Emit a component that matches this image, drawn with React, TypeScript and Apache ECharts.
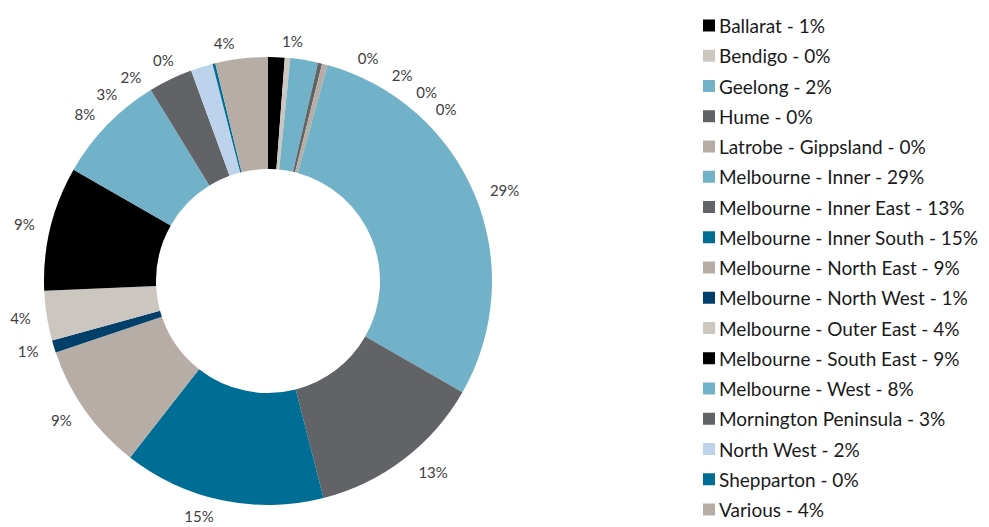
import React, { useEffect, useRef } from "react";
import * as echarts from "echarts";

const categories = [
  "Ballarat",
  "Bendigo",
  "Geelong",
  "Hume",
  "Latrobe - Gippsland",
  "Melbourne - Inner",
  "Melbourne - Inner East",
  "Melbourne - Inner South",
  "Melbourne - North East",
  "Melbourne - North West",
  "Melbourne - Outer East",
  "Melbourne - South East",
  "Melbourne - West",
  "Mornington Peninsula",
  "North West",
  "Shepparton",
  "Various",
];

const values = [1.2, 0.4, 2.0, 0.3, 0.4, 29.1, 12.8, 14.6, 9.3, 0.9, 3.6, 9.0, 8.0, 3.2, 1.6, 0.2, 3.8];

const colors = [
  "#000000",
  "#ccc6c1",
  "#72b2c9",
  "#626366",
  "#b5ada6",
  "#72b2c9",
  "#626366",
  "#006e94",
  "#b5ada6",
  "#003f6a",
  "#ccc6c1",
  "#000000",
  "#72b2c9",
  "#626366",
  "#bdd3ec",
  "#006e94",
  "#b5ada6",
];

export default function App() {
  const ref = useRef<HTMLDivElement>(null);
  useEffect(() => {
    document.body.style.margin = "0";
    const chart = echarts.init(ref.current!, undefined, { renderer: "svg" });
    const total = values.reduce((a, b) => a + b, 0);
    const pct = (v: number) => Math.round((v / total) * 100);
    const pctByName: Record<string, number> = {};
    categories.forEach((c, i) => (pctByName[c] = pct(values[i])));
    chart.setOption({
      animation: false,
      backgroundColor: "#ffffff",
      legend: {
        orient: "vertical",
        left: 703,
        top: 16,
        padding: 0,
        itemWidth: 12,
        itemHeight: 12,
        itemGap: 11.25,
        icon: "rect",
        textStyle: {
          fontFamily: "Lato",
          fontSize: 19,
          color: "#1a1a1a",
          padding: [0, 0, 0, -1],
        },
        formatter: (name: string) => `${name} - ${pctByName[name]}%`,
        data: categories,
      },
      series: [
        {
          type: "pie",
          center: [268, 281],
          radius: [112, 224],
          startAngle: 90,
          clockwise: true,
          avoidLabelOverlap: true,
          color: colors,
          label: {
            show: true,
            position: "outside",
            fontFamily: "Lato",
            fontSize: 15,
            color: "#404040",
            formatter: (p: any) => `${pct(p.value)}%`,
          },
          labelLine: { show: false, length: 16, length2: 0 },
          emphasis: { disabled: true },
          data: categories.map((c, i) => ({ name: c, value: values[i] })),
        },
      ],
    });
    return () => chart.dispose();
  }, []);
  return <div ref={ref} style={{ width: 989, height: 527 }} />;
}
